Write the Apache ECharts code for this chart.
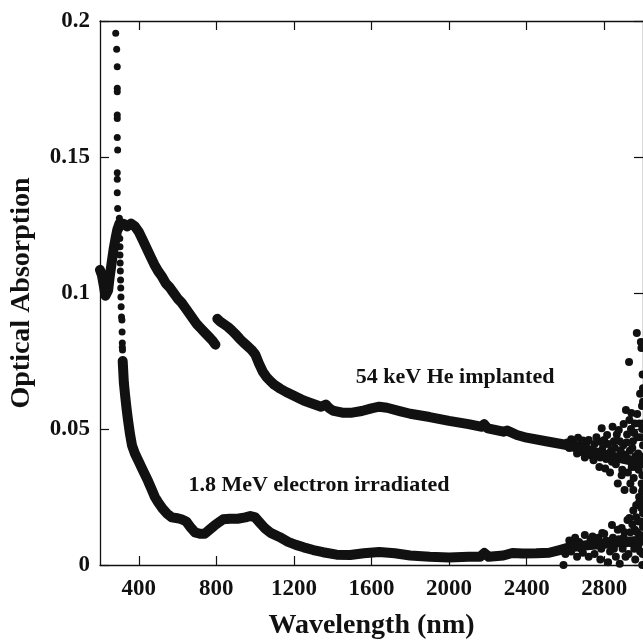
<!DOCTYPE html>
<html>
<head>
<meta charset="utf-8">
<script src="https://cdn.jsdelivr.net/npm/echarts@6/dist/echarts.min.js"></script>
<style>
  html, body { margin: 0; padding: 0; background: #fff; }
  #chart { width: 643px; height: 644px; }
</style>
</head>
<body>
<div id="chart"></div>
<script>
// Optical absorption spectra: [wavelength (nm), absorption]

// 54 keV He implanted, first grating range (200-800 nm)
const heImplantedA = [
  [200,0.1085],[210,0.1065],[220,0.1025],[228,0.0990],[235,0.0985],[242,0.1010],
  [250,0.1060],[260,0.1110],[270,0.1160],[280,0.1200],[290,0.1235],[300,0.1255],
  [320,0.1255],[340,0.1245],[360,0.1255],[380,0.1245],[400,0.1225],[420,0.1195],
  [440,0.1165],[460,0.1135],[480,0.1105],[500,0.1080],[520,0.1060],[540,0.1035],
  [560,0.1020],[580,0.1000],[600,0.0980],[620,0.0965],[640,0.0945],[660,0.0925],
  [680,0.0905],[700,0.0885],[720,0.0870],[740,0.0855],[760,0.0840],[780,0.0825],
  [795,0.0810]
];

// 54 keV He implanted, second grating range (800-3000 nm)
const heImplantedB = [
  [805,0.0905],[820,0.0895],[840,0.0885],[860,0.0875],[880,0.0862],[900,0.0848],
  [920,0.0832],[940,0.0818],[960,0.0805],[980,0.0792],[1000,0.0775],[1020,0.0740],
  [1040,0.0710],[1060,0.0690],[1080,0.0675],[1100,0.0662],[1130,0.0648],[1160,0.0636],
  [1200,0.0622],[1250,0.0605],[1300,0.0592],[1340,0.0582],[1365,0.0590],[1380,0.0578],
  [1400,0.0568],[1450,0.0560],[1500,0.0560],[1550,0.0566],[1600,0.0576],[1640,0.0582],
  [1680,0.0578],[1750,0.0565],[1800,0.0556],[1900,0.0544],[2000,0.0530],[2100,0.0518],
  [2170,0.0508],[2180,0.0518],[2200,0.0502],[2280,0.0490],[2300,0.0494],[2350,0.0478],
  [2400,0.0468],[2500,0.0455],[2600,0.0442],[2700,0.0425],[2800,0.0405],[2900,0.0390],
  [3000,0.0375]
];

// 54 keV He implanted, scattered readings near the detector limit
const heImplantedNoise = [
  [2610,0.0450],[2620,0.0430],[2630,0.0462],[2640,0.0455],[2650,0.0440],[2660,0.0410],
  [2665,0.0468],[2675,0.0415],[2680,0.0445],[2690,0.0458],[2700,0.0395],[2705,0.0420],
  [2710,0.0450],[2720,0.0460],[2730,0.0425],[2735,0.0402],[2745,0.0385],[2750,0.0445],
  [2755,0.0412],[2760,0.0470],[2770,0.0455],[2775,0.0360],[2780,0.0395],[2787,0.0503],
  [2790,0.0425],[2795,0.0440],[2800,0.0460],[2805,0.0355],[2810,0.0390],[2815,0.0478],
  [2820,0.0445],[2825,0.0410],[2830,0.0340],[2835,0.0420],[2840,0.0380],[2843,0.0508],
  [2850,0.0455],[2855,0.0430],[2860,0.0370],[2865,0.0480],[2870,0.0300],[2875,0.0496],
  [2878,0.0390],[2880,0.0455],[2885,0.0420],[2890,0.0330],[2893,0.0350],[2898,0.0440],
  [2900,0.0518],[2905,0.0276],[2908,0.0405],[2912,0.0570],[2915,0.0450],[2918,0.0480],
  [2920,0.0390],[2922,0.0340],[2928,0.0746],[2930,0.0533],[2932,0.0420],[2935,0.0300],
  [2938,0.0500],[2940,0.0559],[2942,0.0360],[2945,0.0430],[2948,0.0455],[2950,0.0276],
  [2952,0.0320],[2955,0.0485],[2958,0.0520],[2960,0.0360],[2962,0.0400],[2965,0.0220],
  [2968,0.0853],[2970,0.0555],[2972,0.0470],[2975,0.0410],[2978,0.0350],[2980,0.0250],
  [2982,0.0520],[2985,0.0630],[2987,0.0400],[2989,0.0820],[2990,0.0470],[2992,0.0798],
  [2993,0.0300],[2995,0.0585],[2996,0.0500],[2997,0.0330],[2998,0.0700],[2999,0.0380],
  [3000,0.0600],[3000,0.0440],[3000,0.0280],[3000,0.0520],[3000,0.0650],[3000,0.0230]
];

// 1.8 MeV electron irradiated, steep UV edge (sparse readings)
const electronEdge = [
  [281,0.1955],[286,0.1896],[289,0.1832],[289,0.1753],[289,0.1740],[289,0.1654],
  [289,0.1642],[289,0.1572],[291,0.1526],[289,0.1442],[289,0.1418],[289,0.1369],
  [291,0.1311],[300,0.1275],[301,0.1235],[302,0.1200],[303,0.1170],[303,0.1140],
  [304,0.1110],[305,0.1081],[306,0.1048],[307,0.1018],[308,0.0985],[309,0.0949],
  [311,0.0912],[313,0.0901],[314,0.0857],[315,0.0816],[315,0.0801],[316,0.0790],
  [316,0.0746],[317,0.0735]
];

// 1.8 MeV electron irradiated, continuous part
const electronMain = [
  [317,0.0750],[323,0.0670],[330,0.0620],[337,0.0575],[345,0.0530],[355,0.0480],
  [365,0.0440],[380,0.0410],[400,0.0380],[420,0.0350],[447,0.0310],[465,0.0280],
  [483,0.0250],[500,0.0230],[520,0.0210],[544,0.0190],[570,0.0175],[600,0.0172],
  [620,0.0168],[645,0.0160],[665,0.0140],[690,0.0120],[715,0.0115],[740,0.0115],
  [765,0.0130],[790,0.0145],[815,0.0158],[835,0.0168],[870,0.0170],[910,0.0170],
  [950,0.0175],[975,0.0180],[1000,0.0175],[1025,0.0155],[1050,0.0135],[1080,0.0118],
  [1125,0.0103],[1170,0.0085],[1210,0.0074],[1250,0.0065],[1300,0.0055],[1350,0.0047],
  [1420,0.0038],[1490,0.0037],[1560,0.0043],[1640,0.0048],[1720,0.0043],[1800,0.0035],
  [1900,0.0030],[2000,0.0028],[2100,0.0030],[2160,0.0030],[2182,0.0044],[2205,0.0030],
  [2280,0.0035],[2326,0.0044],[2380,0.0042],[2450,0.0043],[2516,0.0045],[2570,0.0055],
  [2620,0.0065],[2700,0.0072],[2800,0.0078],[2900,0.0085],[3000,0.0090]
];

// 1.8 MeV electron irradiated, scattered readings near the detector limit
const electronNoise = [
  [2590,0.0000],[2600,0.0040],[2620,0.0090],[2630,0.0050],[2640,0.0080],[2650,0.0100],
  [2660,0.0030],[2670,0.0085],[2680,0.0060],[2690,0.0045],[2700,0.0110],[2710,0.0075],
  [2720,0.0030],[2730,0.0095],[2740,0.0105],[2750,0.0040],[2760,0.0080],[2770,0.0100],
  [2780,0.0020],[2785,0.0060],[2790,0.0118],[2800,0.0115],[2810,0.0090],[2820,0.0010],
  [2830,0.0050],[2840,0.0147],[2845,0.0100],[2850,0.0060],[2860,0.0030],[2870,0.0130],
  [2875,0.0095],[2880,0.0005],[2890,0.0136],[2895,0.0060],[2900,0.0100],[2905,0.0120],
  [2910,0.0030],[2915,0.0080],[2920,0.0165],[2925,0.0040],[2930,0.0173],[2935,0.0120],
  [2940,0.0080],[2945,0.0150],[2950,0.0200],[2955,0.0060],[2958,0.0130],[2960,0.0020],
  [2965,0.0176],[2970,0.0120],[2975,0.0070],[2978,0.0160],[2980,0.0230],[2985,0.0050],
  [2988,0.0110],[2990,0.0160],[2992,0.0210],[2995,0.0270],[2996,0.0000],[2998,0.0040],
  [3000,0.0090],[3000,0.0190],[3000,0.0140],[3000,0.0240]
];

// Tick values
const xTicks = [400, 800, 1200, 1600, 2000, 2400, 2800];
const yTicks = [0, 0.05, 0.1, 0.15, 0.2];

// Curve annotations
const curveNames = ['54 keV He implanted', '1.8 MeV electron irradiated'];
const curveNameX = [2031, 1329];
const curveNameY = [0.0691, 0.0294];

const FONT = '"Liberation Serif", "Times New Roman", serif';
const INK = '#111';

const chart = echarts.init(document.getElementById('chart'), null, { renderer: 'canvas' });

function yLabel(v) {
  if (v === 0) return '0';
  return String(Number(v.toFixed(2)));
}

const baseX = {
  type: 'value', min: 200, max: 3000,
  axisLine: { show: true, onZero: false, lineStyle: { color: INK, width: 1.3 } },
  axisTick: { show: true, inside: true, length: 9, customValues: xTicks, lineStyle: { color: INK, width: 1.2 } },
  splitLine: { show: false }
};
const baseY = {
  type: 'value', min: 0, max: 0.2, interval: 0.05,
  axisLine: { show: true, onZero: false, lineStyle: { color: INK, width: 1.3 } },
  axisTick: { show: true, inside: true, length: 9, customValues: yTicks, lineStyle: { color: INK, width: 1.2 } },
  splitLine: { show: false }
};

const band = (data, w) => ({
  type: 'line', data, showSymbol: false, symbol: 'none',
  xAxisIndex: 0, yAxisIndex: 0,
  lineStyle: { color: INK, width: w, cap: 'round', join: 'round', opacity: 1 },
  animation: false, silent: true
});
const dots = (data, size) => ({
  type: 'scatter', data, symbol: 'circle', symbolSize: size,
  xAxisIndex: 0, yAxisIndex: 0,
  itemStyle: { color: INK, opacity: 1 }, animation: false, silent: true
});

chart.setOption({
  animation: false,
  grid: { left: 100, right: 0, top: 21, bottom: 79, containLabel: false, outerBoundsMode: 'none' },
  xAxis: [
    Object.assign({}, baseX, {
      position: 'bottom',
      name: 'Wavelength (nm)', nameLocation: 'middle', nameGap: 47,
      nameTextStyle: { fontFamily: FONT, fontWeight: 'bold', fontSize: 28, color: INK },
      axisLabel: { show: true, customValues: xTicks, margin: 13, formatter: v => String(v),
        fontFamily: FONT, fontWeight: 'bold', fontSize: 23, color: INK }
    }),
    Object.assign({}, baseX, { position: 'top', axisLabel: { show: false } })
  ],
  yAxis: [
    Object.assign({}, baseY, {
      position: 'left',
      name: 'Optical Absorption', nameLocation: 'middle', nameGap: 64, nameRotate: 90,
      nameTextStyle: { fontFamily: FONT, fontWeight: 'bold', fontSize: 28, color: INK },
      axisLabel: { show: true, margin: 10, customValues: yTicks, formatter: yLabel,
        fontFamily: FONT, fontWeight: 'bold', fontSize: 23, color: INK }
    }),
    Object.assign({}, baseY, { position: 'right', axisLabel: { show: false } })
  ],
  series: [
    band(heImplantedA, 10),
    band(heImplantedB, 10),
    dots(heImplantedNoise, 8),
    dots(electronEdge, 7),
    band(electronMain, 10),
    dots(electronNoise, 8),
    {
      type: 'scatter', xAxisIndex: 0, yAxisIndex: 0, symbolSize: 0, silent: true,
      itemStyle: { opacity: 1 },
      data: curveNames.map((n, i) => ({ name: n, value: [curveNameX[i], curveNameY[i]] })),
      label: {
        show: true, position: 'inside', formatter: p => p.name, opacity: 1,
        fontFamily: FONT, fontWeight: 'bold', fontSize: 22, color: INK
      }
    }
  ]
});
</script>
</body>
</html>
